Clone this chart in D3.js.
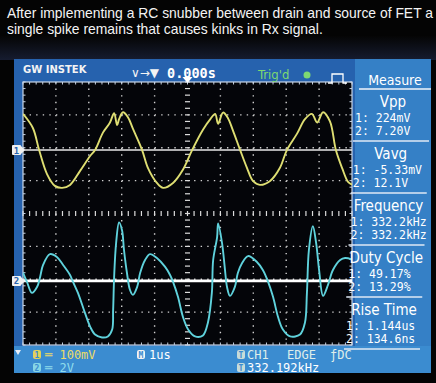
<!DOCTYPE html>
<html>
<head>
<meta charset="utf-8">
<script src="https://cdnjs.cloudflare.com/ajax/libs/d3/7.8.5/d3.min.js"></script>
<style>
html, body { margin: 0; padding: 0; background: #000; }
svg { display: block; }
</style>
</head>
<body>
<svg id="scope" width="436" height="383"></svg>
<script>
// caption over the photo
var caption = ["After implementing a RC snubber between drain and source of FET a",
               "single spike remains that causes kinks in Rx signal."];

// CH1 (yellow, 100mV/div) - time in us, value in mV
var ch1T  = [-5.00,-4.70,-4.51,-4.27,-4.03,-3.81,-3.57,-3.27,-2.96,-2.81,-2.57,-2.36,-2.23,-2.14,-2.08,-1.96,-1.81,-1.66,-1.38,-1.20,-0.93,-0.74,-0.44,-0.14,0.14,0.47,0.70,0.84,0.93,1.08,1.23,1.38,1.60,1.81,1.99,2.20,2.51,2.81,3.02,3.33,3.57,3.78,3.94,4.12,4.33,4.51,4.70,4.88,5.00];
var ch1mV = [110,67,0,-73,-109,-115,-106,-64,-18,0,53,83,112,76,94,115,100,65,0,-55,-100,-115,-100,-60,0,62,95,110,80,114,97,60,0,-55,-94,-106,-94,-54,0,50,94,110,84,115,87,0,-55,-97,-105];

// CH2 (cyan, 2V/div) - time in us, value in V
var ch2T = [-5.00,-4.88,-4.73,-4.57,-4.48,-4.39,-4.18,-3.97,-3.78,-3.57,-3.48,-3.33,-3.12,-2.96,-2.81,-2.60,-2.42,-2.29,-2.26,-2.23,-2.17,-2.08,-1.99,-1.93,-1.84,-1.75,-1.66,-1.53,-1.44,-1.29,-1.14,-0.93,-0.68,-0.53,-0.44,-0.29,-0.14,0.02,0.23,0.47,0.62,0.74,0.78,0.90,0.93,1.05,1.14,1.20,1.29,1.44,1.53,1.66,1.84,2.11,2.29,2.45,2.60,2.75,2.90,3.12,3.42,3.57,3.63,3.69,3.81,3.91,4.00,4.12,4.27,4.42,4.64,4.79,5.00];
var ch2V = [0.5,-0.06,-0.73,-0.36,0.24,0.97,1.63,1.45,0.97,0.36,-0.06,-0.73,-1.93,-2.78,-3.26,-3.44,-3.38,-2.96,-1.75,0.24,2.30,3.56,3.08,1.87,0.48,-0.54,-0.85,-0.36,0.48,1.27,1.63,1.39,0.85,0.36,-0.06,-0.97,-2.18,-2.96,-3.38,-3.32,-2.54,-0.73,1.27,2.66,3.50,2.30,0.66,-0.36,-0.91,-0.36,0.48,1.09,1.51,1.15,0.66,-0.06,-0.97,-2.18,-2.96,-3.38,-3.26,-2.54,-0.73,1.87,3.32,2.30,0.66,-0.91,-0.24,0.66,1.27,1.39,1.30];

// channel offsets (divisions from centre)
var ch1Pos = 1.93, ch2Pos = -2.05;

// measure panel
var measureNames = ["Vpp", "Vavg", "Frequency", "Duty Cycle", "Rise Time"];
var ch1Readings = ["224mV", "-5.33mV", "332.2kHz", "49.17%", "1.144us"];
var ch2Readings = ["7.20V", "12.1V", "332.2kHz", "13.29%", "134.6ns"];

var svg = d3.select("#scope");
var mono = "'DejaVu Sans Mono', monospace";
var cond = "'DejaVu Sans Condensed', 'DejaVu Sans', sans-serif";

var x = d3.scaleLinear().domain([-5, 5]).range([23, 352]);
var y = d3.scaleLinear().domain([-4, 4]).range([345, 82]);

// background + glare band under the caption
var defs = svg.append("defs");
var g1 = defs.append("linearGradient").attr("id", "glare").attr("x1", 0).attr("x2", 0).attr("y1", 0).attr("y2", 1);
g1.append("stop").attr("offset", "0%").attr("stop-color", "#050505");
g1.append("stop").attr("offset", "100%").attr("stop-color", "#161c30");
svg.append("rect").attr("width", 436).attr("height", 383).attr("fill", "#040404");
svg.append("rect").attr("y", 36).attr("width", 436).attr("height", 24).attr("fill", "url(#glare)");

svg.selectAll("text.cap").data(caption).enter().append("text")
  .attr("class", "cap")
  .attr("x", 7).attr("y", function(d, i) { return 17.5 + i * 16; })
  .attr("fill", "#f4f4f4")
  .style("font-family", "'Liberation Sans', Arial, sans-serif")
  .style("font-size", "13.9px")
  .text(function(d) { return d; });

// screen frame
svg.append("rect").attr("x", 14).attr("y", 59).attr("width", 417).attr("height", 314).attr("fill", "#2662ae");
svg.append("rect").attr("x", 355).attr("y", 59).attr("width", 76).attr("height", 290).attr("fill", "#3580c6");
svg.append("rect").attr("x", 14).attr("y", 346).attr("width", 417).attr("height", 27).attr("fill", "#3b8cd0");

// grid area
var plot = svg.append("g");
plot.append("rect")
  .attr("x", x(-5)).attr("y", y(4))
  .attr("width", x(5) - x(-5)).attr("height", y(-4) - y(4))
  .attr("fill", "#040509");

var minorX = (x(5) - x(-5)) / 50, minorY = (y(-4) - y(4)) / 40;

plot.selectAll("line.vg").data(x.ticks(10).filter(function(t) { return t > -5 && t < 5 && t !== 0; }))
  .enter().append("line").attr("class", "vg")
  .attr("x1", function(d) { return x(d); }).attr("x2", function(d) { return x(d); })
  .attr("y1", y(4)).attr("y2", y(-4))
  .attr("stroke", "#d0d0d0").attr("stroke-width", 1.4)
  .attr("stroke-dasharray", "1.4 " + (minorY - 1.4));

plot.selectAll("line.hg").data(y.ticks(8).filter(function(t) { return t > -4 && t < 4 && t !== 0; }))
  .enter().append("line").attr("class", "hg")
  .attr("y1", function(d) { return y(d); }).attr("y2", function(d) { return y(d); })
  .attr("x1", x(-5)).attr("x2", x(5))
  .attr("stroke", "#d0d0d0").attr("stroke-width", 1.4)
  .attr("stroke-dasharray", "1.4 " + (minorX - 1.4));

// centre cross with minor ticks
var xm = d3.range(0, 51).map(function(k) { return -5 + k * 0.2; });
var ym = d3.range(0, 41).map(function(k) { return -4 + k * 0.2; });
plot.selectAll("line.hc").data(xm).enter().append("line").attr("class", "hc")
  .attr("x1", function(d) { return x(d); }).attr("x2", function(d) { return x(d); })
  .attr("y1", y(0) - 2.5).attr("y2", y(0) + 2.5)
  .attr("stroke", "#dcdcdc").attr("stroke-width", 1.2);
plot.selectAll("line.vc").data(ym).enter().append("line").attr("class", "vc")
  .attr("y1", function(d) { return y(d); }).attr("y2", function(d) { return y(d); })
  .attr("x1", x(0) - 2.5).attr("x2", x(0) + 2.5)
  .attr("stroke", "#dcdcdc").attr("stroke-width", 1.2);

// border with inward ticks
plot.append("rect")
  .attr("x", x(-5)).attr("y", y(4))
  .attr("width", x(5) - x(-5)).attr("height", y(-4) - y(4))
  .attr("fill", "none").attr("stroke", "#c8d4e4").attr("stroke-width", 1.2);
plot.selectAll("line.tt").data(xm).enter().append("line").attr("class", "tt")
  .attr("x1", function(d) { return x(d); }).attr("x2", function(d) { return x(d); })
  .attr("y1", y(4)).attr("y2", y(4) + 2.5).attr("stroke", "#c8d4e4");
plot.selectAll("line.tb").data(xm).enter().append("line").attr("class", "tb")
  .attr("x1", function(d) { return x(d); }).attr("x2", function(d) { return x(d); })
  .attr("y1", y(-4)).attr("y2", y(-4) - 2.5).attr("stroke", "#c8d4e4");
plot.selectAll("line.tl").data(ym).enter().append("line").attr("class", "tl")
  .attr("y1", function(d) { return y(d); }).attr("y2", function(d) { return y(d); })
  .attr("x1", x(-5)).attr("x2", x(-5) + 2.5).attr("stroke", "#c8d4e4");
plot.selectAll("line.tr").data(ym).enter().append("line").attr("class", "tr")
  .attr("y1", function(d) { return y(d); }).attr("y2", function(d) { return y(d); })
  .attr("x1", x(5)).attr("x2", x(5) - 2.5).attr("stroke", "#c8d4e4");

defs.append("clipPath").attr("id", "clip").append("rect")
  .attr("x", x(-5)).attr("y", y(4)).attr("width", x(5) - x(-5)).attr("height", y(-4) - y(4));
var traces = plot.append("g").attr("clip-path", "url(#clip)");

// white reference lines at the channel grounds
traces.append("line").attr("x1", x(-5)).attr("x2", x(5))
  .attr("y1", y(ch1Pos)).attr("y2", y(ch1Pos))
  .attr("stroke", "#e8e8e8").attr("stroke-width", 1.5);
traces.append("line").attr("x1", x(-5)).attr("x2", x(5))
  .attr("y1", y(ch2Pos)).attr("y2", y(ch2Pos))
  .attr("stroke", "#ffffff").attr("stroke-width", 2.6);

var ch1 = ch1T.map(function(t, i) { return [t, ch1mV[i]]; });
var ch2 = ch2T.map(function(t, i) { return [t, ch2V[i]]; });

var line1 = d3.line().x(function(d) { return x(d[0]); })
  .y(function(d) { return y(ch1Pos + d[1] / 100); })
  .curve(d3.curveCatmullRom.alpha(0.5));
var line2 = d3.line().x(function(d) { return x(d[0]); })
  .y(function(d) { return y(ch2Pos + d[1] / 2); })
  .curve(d3.curveCatmullRom.alpha(0.5));

traces.append("path").datum(ch1).attr("d", line1)
  .attr("fill", "none").attr("stroke", "#dede72").attr("stroke-width", 1.9);
traces.append("path").datum(ch2).attr("d", line2)
  .attr("fill", "none").attr("stroke", "#5fd2dc").attr("stroke-width", 1.9);

// ground markers on the left
[[ch1Pos, "1"], [ch2Pos, "2"]].forEach(function(m) {
  var yy = y(m[0]);
  svg.append("rect").attr("x", 12).attr("y", yy - 5).attr("width", 9).attr("height", 10)
    .attr("fill", "#f0f0f0").attr("rx", 1);
  svg.append("path").attr("d", "M21," + (yy - 4) + "L25," + yy + "L21," + (yy + 4) + "Z").attr("fill", "#f0f0f0");
  svg.append("text").attr("x", 16.5).attr("y", yy + 3.5).attr("text-anchor", "middle")
    .attr("fill", "#2662ae").style("font-family", mono).style("font-size", "9px").style("font-weight", "bold")
    .text(m[1]);
});

// trigger position marker
svg.append("path")
  .attr("d", "M" + (x(0) - 5) + "," + (y(4) - 5) + "L" + (x(0) + 5) + "," + (y(4) - 5) + "L" + x(0) + "," + (y(4) + 1) + "Z")
  .attr("fill", "#ffffff");

// header
svg.append("text").attr("x", 23).attr("y", 73).attr("fill", "#f4f4f4")
  .style("font-family", "'DejaVu Sans', sans-serif").style("font-size", "10px").style("font-weight", "bold")
  .text("GW INSTEK");
svg.append("text").attr("x", 131).attr("y", 77).attr("fill", "#f4f4f4")
  .style("font-family", "'DejaVu Sans', sans-serif").style("font-size", "12px")
  .text("\u2228\u2192\u25BC");
svg.append("text").attr("x", 167).attr("y", 78).attr("fill", "#ffffff")
  .style("font-family", mono).style("font-size", "13.5px").style("font-weight", "bold")
  .text("0.000s");
svg.append("text").attr("x", 258).attr("y", 79).attr("fill", "#7ed872")
  .style("font-family", cond).style("font-size", "13px")
  .text("Trig'd");
svg.append("circle").attr("cx", 307).attr("cy", 75).attr("r", 3.5).attr("fill", "#7ed872");
// pulse symbol
svg.append("path").attr("d", "M328,83H332V74H343V83H347").attr("fill", "none")
  .attr("stroke", "#ffffff").attr("stroke-width", 1.3);

// measure panel
svg.append("text").attr("x", 395).attr("y", 85).attr("text-anchor", "middle").attr("fill", "#ffffff")
  .style("font-family", cond).style("font-size", "14px").text("Measure");
svg.append("line").attr("x1", 359).attr("x2", 431).attr("y1", 89).attr("y2", 89)
  .attr("stroke", "#f0f4fa").attr("stroke-width", 1.5);

var rowY = d3.scaleLinear().domain([0, measureNames.length - 1]).range([107, 315]);
var colX = d3.scaleLinear().domain([0, measureNames.length - 1]).range([393, 384]);

var blocks = svg.selectAll("g.m").data(measureNames).enter().append("g").attr("class", "m");
blocks.append("text")
  .attr("x", function(d, i) { return colX(i); }).attr("y", function(d, i) { return rowY(i); })
  .attr("text-anchor", "middle").attr("fill", "#ffffff")
  .style("font-family", cond).style("font-size", "15px")
  .text(function(d) { return d; });
blocks.append("text")
  .attr("x", function(d, i) { return colX(i) - 38; }).attr("y", function(d, i) { return rowY(i) + 15; })
  .attr("fill", "#ffffff").style("font-family", mono).style("font-size", "11.5px")
  .text(function(d, i) { return "1: " + ch1Readings[i]; });
blocks.append("text")
  .attr("x", function(d, i) { return colX(i) - 38; }).attr("y", function(d, i) { return rowY(i) + 28; })
  .attr("fill", "#ffffff").style("font-family", mono).style("font-size", "11.5px")
  .text(function(d, i) { return "2: " + ch2Readings[i]; });
blocks.append("line")
  .attr("x1", function(d, i) { return colX(i) - 40; }).attr("x2", function(d, i) { return colX(i) + 36; })
  .attr("y1", function(d, i) { return rowY(i) + 34; }).attr("y2", function(d, i) { return rowY(i) + 34; })
  .attr("stroke", "#dfe9f5").attr("stroke-width", 1.3);

// bottom status strip
function badge(cx, cy, label, fill, txt) {
  svg.append("rect").attr("x", cx - 4).attr("y", cy - 5).attr("width", 8).attr("height", 9).attr("rx", 2).attr("fill", fill);
  svg.append("text").attr("x", cx).attr("y", cy + 3).attr("text-anchor", "middle").attr("fill", txt)
    .style("font-family", mono).style("font-size", "8px").style("font-weight", "bold").text(label);
}
badge(37, 355, "1", "#e4d25a", "#3b8cd0");
badge(37, 368, "2", "#86d6e6", "#3b8cd0");
badge(141, 355, "M", "#f4f4f4", "#3b8cd0");
badge(241, 355, "T", "#c8dcd8", "#3b8cd0");
badge(241, 368, "T", "#c8dcd8", "#3b8cd0");

svg.append("text").attr("x", 45).attr("y", 359).attr("fill", "#ecdc66")
  .style("font-family", mono).style("font-size", "12px").text("\u2550 100mV");
svg.append("text").attr("x", 45).attr("y", 372).attr("fill", "#8fdcec")
  .style("font-family", mono).style("font-size", "12px").text("\u2550 2V");
svg.append("text").attr("x", 149).attr("y", 359).attr("fill", "#ffffff")
  .style("font-family", mono).style("font-size", "12px").text("1us");
svg.append("text").attr("x", 247).attr("y", 359).attr("fill", "#dfeeea")
  .style("font-family", mono).style("font-size", "12px").text("CH1");
svg.append("text").attr("x", 287).attr("y", 359).attr("fill", "#dfeeea")
  .style("font-family", mono).style("font-size", "12px").text("EDGE");
svg.append("text").attr("x", 330).attr("y", 359).attr("fill", "#dfeeea")
  .style("font-family", mono).style("font-size", "12px").text("\u0192DC");
svg.append("text").attr("x", 247).attr("y", 372).attr("fill", "#ffffff")
  .style("font-family", mono).style("font-size", "12px").text("332.192kHz");

// small marker bottom left
svg.append("path").attr("d", "M15,350L21,350L18,355Z").attr("fill", "#e8eef8");
</script>
</body>
</html>
